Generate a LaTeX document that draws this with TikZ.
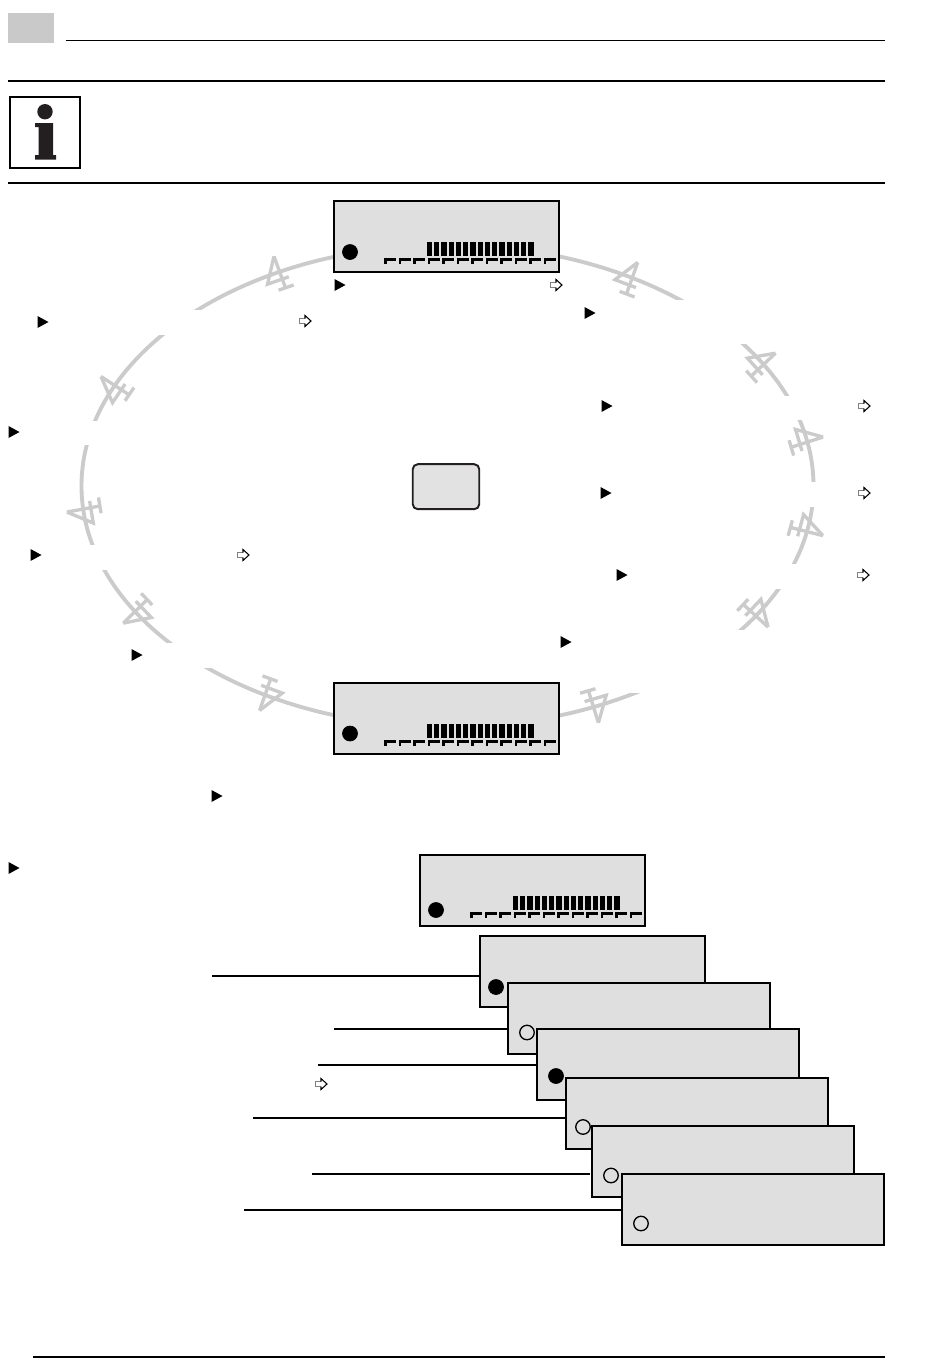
\documentclass[tikz,border=0pt]{standalone}
\usetikzlibrary{positioning}
\definecolor{panelgray}{HTML}{DFDFDF}
\definecolor{ringgray}{HTML}{CBCBCB}
\definecolor{tabgray}{HTML}{C9C9C9}
\definecolor{inkblack}{HTML}{231F20}
\tikzset{
  rule/.style={line width=0.6pt,black},
  panel/.style={draw=black,line width=0.65pt,fill=panelgray,rectangle,anchor=north west,inner sep=0pt,outer sep=0pt,minimum width=4.5cm,minimum height=1.42cm},
  widepanel/.style={panel,minimum width=5.24cm},
  dotfull/.style={circle,draw=black,fill=black,line width=0.4pt,inner sep=0pt,minimum size=0.3cm},
  dotopen/.style={circle,draw=black,fill=panelgray,line width=0.75pt,inner sep=0pt,minimum size=0.29cm},
  pics/tower/.style={code={
    \draw[ringgray,line width=1.9pt,line join=miter] (2.7,16.5) -- (-12.5,-7.7) -- (10,-7.7);
    \draw[ringgray,line width=1.9pt] (2.7,16.5) -- (3.3,-17);
    \draw[ringgray,line width=1.9pt] (-4,-17) -- (12,-17);
  }},
  pics/bargraph/.style={code={
    \foreach \i in {0,...,14} {
      \fill[black] ({93+7.24*\i},16) rectangle ++(5.2,14);
    }
    \foreach \i in {0,...,11} {
      \fill[black] ({50+14.5*\i},11.2) rectangle ++(12,2.6);
      \fill[black] ({50+14.5*\i},11.2) rectangle ++(2.6,-3);
    }
  }},
  pics/solidmark/.style={code={
    \fill[black] (-5.5,6) -- (5.5,0) -- (-5.5,-6) -- cycle;
  }},
  pics/hollowmark/.style={code={
    \draw[gray,line width=0.5pt] (-6,2.5) -- (0,2.5) (-6,2.5) -- (-6,-2.5) -- (0,-2.5);
    \draw[black,line width=0.6pt] (0,2.5) -- (0,5.5) -- (6,0) -- (0,-5.5) -- (0,-2.5);
  }},
}
\begin{document}
\begin{tikzpicture}[x=0.02cm,y=0.02cm]
  \useasboundingbox (0,-1370) rectangle (950,0);
  % header
  \fill[tabgray] (8,-13) rectangle (54,-43);
  \draw[rule] (66,-40.5) -- (885,-40.5);
  \draw[rule] (8,-81) -- (885,-81);
  \draw[rule] (8,-183) -- (885,-183);
  \draw[rule] (33,-1357) -- (885,-1357);

  % info sign
  \draw[black,line width=1.2pt] (9.7,-97.3) rectangle (80,-168);
  \fill[inkblack] (45,-111.7) circle (7.7);
  \fill[inkblack] (35,-123) -- (53,-123) -- (53,-155) -- (56,-155) -- (56,-159.5) -- (35,-159.5) -- (35,-155) -- (38.5,-155) -- (38.5,-127) -- (35,-127) -- cycle;

  % ring
  \draw[ringgray,line width=2.2pt] (447.5,-486) ellipse (366 and 241);
  \foreach \t in {117.8,60.2,30.9,11.2,-10.2,-32,-119.4,-148,186.2,156} {
    \pgfmathsetmacro\turn{atan2(sin(\t)*366,cos(\t)*241)-90}
    \pic[rotate=\turn] at ({447.5+366*cos(\t)},{-486+241*sin(\t)}) {tower};
  }
  % gaps in the ring
  \foreach \xa/\ya/\xb/\yb in {30/310/315/335,10/421/200/445,30/545/250/570,130/643/260/668,
      590/300/870/344,600/396/870/420,600/482/870/507,615/564/870/589,560/630/800/693} {
    \fill[white] (\xa,-\ya) rectangle (\xb,-\yb);
  }
  % this one stands clear of the gap
  \foreach \t in {-66} {
    \pgfmathsetmacro\turn{atan2(sin(\t)*366,cos(\t)*241)-90}
    \pic[rotate=\turn] at ({447.5+366*cos(\t)},{-486+241*sin(\t)}) {tower};
  }

  % centre key
  \node[draw=inkblack,fill=panelgray!90!white,line width=1.1pt,rounded corners=0.1cm,inner sep=0pt,minimum width=1.33cm,minimum height=0.9cm] (key) at (446,-486.7) {};

  % ring panels
  \node[panel] (top) at (334,-201) {};
  \node[dotfull] (topdot) at (350,-252) {};
  \pic at (334,-272) {bargraph};
  \node[panel] (bottom) at (334,-683) {};
  \node[dotfull] (bottomdot) at (350,-733.5) {};
  \pic at (334,-754) {bargraph};

  % stack
  \node[panel] (first) at (420,-855) {};
  \node[dotfull] (firstdot) at (436,-910) {};
  \pic at (420,-926) {bargraph};
  \node[panel] (stacka) at (480,-936) {};
  \node[dotfull] (stackadot) at (496,-987) {};
  \node[widepanel] (stackb) at (508,-983) {};
  \node[dotopen] (stackbdot) at (527,-1032.5) {};
  \node[widepanel] (stackc) at (537,-1029) {};
  \node[dotfull] (stackcdot) at (556,-1076) {};
  \node[widepanel] (stackd) at (566,-1078) {};
  \node[dotopen] (stackddot) at (583,-1127) {};
  \node[widepanel] (stacke) at (592,-1126) {};
  \node[dotopen] (stackedot) at (611,-1175.5) {};
  \node[widepanel] (stackf) at (622,-1174) {};
  \node[dotopen] (stackfdot) at (641,-1223.5) {};

  % leaders
  \coordinate (leada) at (212,-976);
  \coordinate (leadb) at (334,-1029);
  \coordinate (leadc) at (318,-1065);
  \coordinate (leadd) at (253,-1118);
  \coordinate (leade) at (312,-1174);
  \coordinate (leadf) at (244,-1210);
  \draw[rule] (leada) -- (leada -| stacka.west);
  \draw[rule] (leadb) -- (leadb -| stackb.west);
  \draw[rule] (leadc) -- (leadc -| stackc.west);
  \draw[rule] (leadd) -- (leadd -| stackd.west);
  \draw[rule] (leade) -- ([xshift=-0.05cm]leade -| stacke.west);
  \draw[rule] (leadf) -- (leadf -| stackf.west);

  % marks
  \foreach \x/\y in {340/285,590/313,43/322,14/432,36/555,607/406,606/493,622/575,566/642,137/655,217/796,14/868} {
    \pic at (\x,-\y) {solidmark};
  }
  \foreach \x/\y in {556/285,305/321,864/406,864/493,863/575,243/555,321/1084} {
    \pic at (\x,-\y) {hollowmark};
  }
\end{tikzpicture}
\end{document}
